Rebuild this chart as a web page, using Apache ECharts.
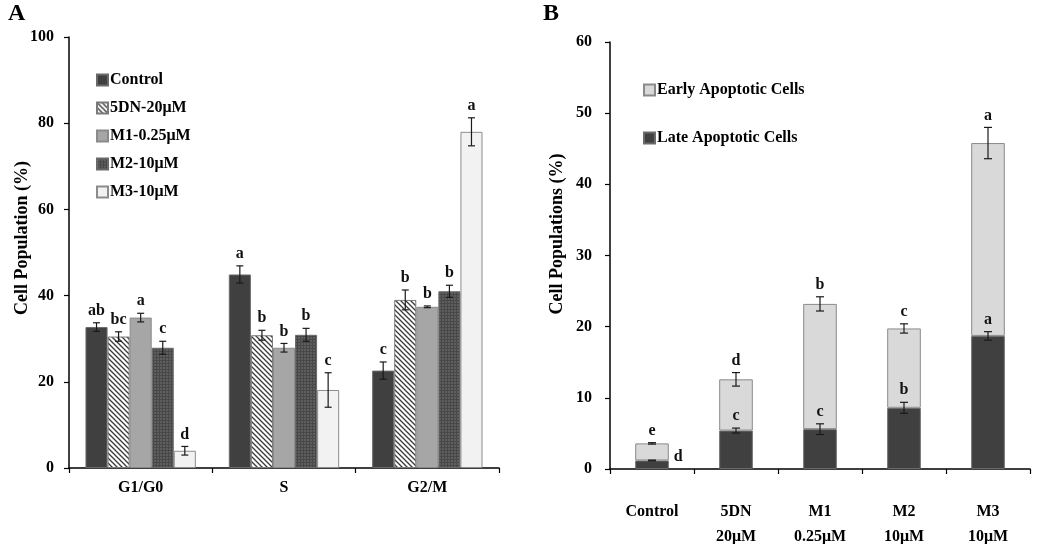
<!DOCTYPE html>
<html><head><meta charset="utf-8">
<script src="https://cdn.jsdelivr.net/npm/echarts@6/dist/echarts.min.js"></script>
<style>html,body{margin:0;padding:0;background:#fff}#c{width:1050px;height:544px}</style>
</head><body><div id="c"></div>
<script>
// ---- Panel A data (cell cycle) ----
const phaseCats = ['G1/G0', 'S', 'G2/M'];
const seriesNamesA = ['Control', '5DN-20μM', 'M1-0.25μM', 'M2-10μM', 'M3-10μM'];
const ctrlVals = [32.7, 44.9, 22.6];
const dn5Vals  = [30.5, 30.8, 39.0];
const m1Vals   = [34.9, 27.9, 37.4];
const m2Vals   = [27.9, 30.9, 41.0];
const m3Vals   = [4.0, 18.1, 78.0];
const ctrlErr = [1.0, 2.0, 2.0];
const dn5Err  = [1.1, 1.15, 2.3];
const m1Err   = [1.0, 1.0, 0.2];
const m2Err   = [1.5, 1.5, 1.4];
const m3Err   = [1.0, 4.0, 3.25];
const ctrlLet = ['ab', 'a', 'c'];
const dn5Let  = ['bc', 'b', 'b'];
const m1Let   = ['a', 'b', 'b'];
const m2Let   = ['c', 'b', 'b'];
const m3Let   = ['d', 'c', 'a'];
const yTicksA = [0, 20, 40, 60, 80, 100];

// ---- Panel B data (apoptosis) ----
const treatCats = ['Control', '5DN\n20μM', 'M1\n0.25μM', 'M2\n10μM', 'M3\n10μM'];
const lateVals  = [1.2, 5.4, 5.6, 8.6, 18.7];
const earlyVals = [2.4, 7.2, 17.6, 11.15, 27.1];
const lateErr   = [0.05, 0.35, 0.75, 0.77, 0.6];
const totalErr  = [0.1, 0.95, 1.0, 0.65, 2.2];
const lateLet   = ['d', 'c', 'c', 'b', 'a'];
const earlyLet  = ['e', 'd', 'b', 'c', 'a'];
const yTicksB = [0, 10, 20, 30, 40, 50, 60];

const FONT = '"Liberation Serif", "DejaVu Serif", serif';

function hatchPattern() {
  const s = 5, c = document.createElement('canvas');
  c.width = s; c.height = s;
  const g = c.getContext('2d');
  g.fillStyle = '#ffffff'; g.fillRect(0, 0, s, s);
  g.strokeStyle = '#3a3a3a'; g.lineWidth = 1.3;
  g.beginPath();
  g.moveTo(-1, -1); g.lineTo(s + 1, s + 1);
  g.moveTo(-1, s - 1); g.lineTo(1, s + 1);
  g.moveTo(s - 1, -1); g.lineTo(s + 1, 1);
  g.stroke();
  return c;
}
function crossPattern() {
  const s = 3, c = document.createElement('canvas');
  c.width = s; c.height = s;
  const g = c.getContext('2d');
  g.fillStyle = '#5e5e5e'; g.fillRect(0, 0, s, s);
  g.fillStyle = '#484848';
  g.fillRect(0, 0, 1, s); g.fillRect(0, 0, s, 1);
  return c;
}

const colorsA = [
  '#404040',
  { image: hatchPattern(), repeat: 'repeat' },
  '#a6a6a6',
  { image: crossPattern(), repeat: 'repeat' },
  '#f2f2f2'
];
const borderA = ['#6a6a6a', '#7a7a7a', '#8a8a8a', '#6a6a6a', '#8c8c8c'];
const valsA = [ctrlVals, dn5Vals, m1Vals, m2Vals, m3Vals];
const errA = [ctrlErr, dn5Err, m1Err, m2Err, m3Err];
const letA = [ctrlLet, dn5Let, m1Let, m2Let, m3Let];
const GAP_A = 0.23;

const series = [];
valsA.forEach((vals, i) => {
  series.push({
    type: 'bar', name: seriesNamesA[i], xAxisIndex: 0, yAxisIndex: 0,
    data: vals, barGap: '0%', barCategoryGap: (GAP_A * 100) + '%',
    itemStyle: { color: colorsA[i], borderColor: borderA[i], borderWidth: 1 },
    z: 2
  });
});
valsA.forEach((vals, i) => {
  series.push({
    type: 'custom', xAxisIndex: 0, yAxisIndex: 0, z: 5, silent: true,
    data: vals.map((v, k) => [k, v, errA[i][k]]),
    renderItem: function (params, api) {
      const k = api.value(0), v = api.value(1), e = api.value(2);
      const band = api.size([1, 0])[0];
      const bw = band * (1 - GAP_A) / 5;
      const c = api.coord([k, v]);
      const x = c[0] - band * (1 - GAP_A) / 2 + bw * (i + 0.5);
      const top = api.coord([k, v + e])[1], bot = api.coord([k, v - e])[1];
      const st = { stroke: '#1a1a1a', lineWidth: 1.2 };
      return { type: 'group', children: [
        { type: 'line', shape: { x1: x, y1: top, x2: x, y2: bot }, style: st },
        { type: 'line', shape: { x1: x - 3.5, y1: top, x2: x + 3.5, y2: top }, style: st },
        { type: 'line', shape: { x1: x - 3.5, y1: bot, x2: x + 3.5, y2: bot }, style: st },
        { type: 'text', style: { text: letA[i][params.dataIndex], x: x, y: top - 4,
          textAlign: 'center', textVerticalAlign: 'bottom',
          font: 'bold 16px ' + FONT, fill: '#111' } }
      ]};
    }
  });
});

// Panel B
series.push({
  type: 'bar', name: 'Late Apoptotic Cells', xAxisIndex: 1, yAxisIndex: 1, stack: 'apo',
  data: lateVals, barCategoryGap: '60%',
  itemStyle: { color: '#404040', borderColor: '#6a6a6a', borderWidth: 1 }, z: 2
});
series.push({
  type: 'bar', name: 'Early Apoptotic Cells', xAxisIndex: 1, yAxisIndex: 1, stack: 'apo',
  data: earlyVals, barCategoryGap: '60%',
  itemStyle: { color: '#d9d9d9', borderColor: '#8a8a8a', borderWidth: 1 }, z: 2
});
function errSeriesB(tops, errs, lets, isLate) {
  return {
    type: 'custom', xAxisIndex: 1, yAxisIndex: 1, z: 5, silent: true,
    data: tops.map((v, k) => [k, v, errs[k]]),
    renderItem: function (params, api) {
      const k = api.value(0), v = api.value(1), e = api.value(2);
      const band = api.size([1, 0])[0];
      const x = api.coord([k, v])[0];
      const top = api.coord([k, v + e])[1], bot = api.coord([k, v - e])[1];
      const st = { stroke: '#1a1a1a', lineWidth: 1.2 };
      const idx = params.dataIndex;
      let tx = x, ty = top - 4, va = 'bottom', ta = 'center';
      if (isLate && earlyVals[idx] < 3) {
        tx = x + band * 0.4 / 2 + 5; ty = api.coord([k, v])[1] - 4; ta = 'left'; va = 'middle';
      }
      return { type: 'group', children: [
        { type: 'line', shape: { x1: x, y1: top, x2: x, y2: bot }, style: st },
        { type: 'line', shape: { x1: x - 4, y1: top, x2: x + 4, y2: top }, style: st },
        { type: 'line', shape: { x1: x - 4, y1: bot, x2: x + 4, y2: bot }, style: st },
        { type: 'text', style: { text: lets[idx], x: tx, y: ty, textAlign: ta, textVerticalAlign: va,
          font: 'bold 16px ' + FONT, fill: '#111' } }
      ]};
    }
  };
}
series.push(errSeriesB(lateVals, lateErr, lateLet, true));
series.push(errSeriesB(lateVals.map((v, k) => v + earlyVals[k]), totalErr, earlyLet, false));

const axisLine = { show: true, lineStyle: { color: '#000', width: 1.5 } };
const axisTick = { show: true, length: 5, inside: false, lineStyle: { color: '#000', width: 1.2 } };

const option = {
  backgroundColor: '#fff',
  animation: false,
  textStyle: { fontFamily: FONT },
  grid: [
    { left: 69, top: 37, width: 430, height: 431, containLabel: false, outerBoundsMode: 'none' },
    { left: 610, top: 42, width: 420, height: 427, containLabel: false, outerBoundsMode: 'none' }
  ],
  xAxis: [
    { type: 'category', gridIndex: 0, data: phaseCats, axisLine: axisLine, axisTick: axisTick,
      axisLabel: { color: '#000', fontFamily: FONT, fontWeight: 'bold', fontSize: 16, margin: 12 } },
    { type: 'category', gridIndex: 1, data: treatCats, axisLine: axisLine, axisTick: axisTick,
      axisLabel: { color: '#000', fontFamily: FONT, fontWeight: 'bold', fontSize: 16, margin: 30, lineHeight: 25 } }
  ],
  yAxis: [
    { type: 'value', gridIndex: 0, min: yTicksA[0], max: yTicksA[yTicksA.length - 1], interval: yTicksA[1] - yTicksA[0],
      axisLine: axisLine, axisTick: axisTick, splitLine: { show: false },
      axisLabel: { color: '#000', fontFamily: FONT, fontWeight: 'bold', fontSize: 16, margin: 15 } },
    { type: 'value', gridIndex: 1, min: yTicksB[0], max: yTicksB[yTicksB.length - 1], interval: yTicksB[1] - yTicksB[0],
      axisLine: axisLine, axisTick: axisTick, splitLine: { show: false },
      axisLabel: { color: '#000', fontFamily: FONT, fontWeight: 'bold', fontSize: 16, margin: 18 } }
  ],
  legend: [
    { data: seriesNamesA, orient: 'vertical', left: 91, top: 67, itemWidth: 11, itemHeight: 11, itemGap: 12,
      icon: 'rect', selectedMode: false,
      textStyle: { color: '#000', fontFamily: FONT, fontWeight: 'bold', fontSize: 16, padding: [0, 0, 0, -3] } },
    { data: ['Early Apoptotic Cells', 'Late Apoptotic Cells'], orient: 'vertical', left: 638, top: 77,
      itemWidth: 11, itemHeight: 11, itemGap: 32, icon: 'rect', selectedMode: false,
      textStyle: { color: '#000', fontFamily: FONT, fontWeight: 'bold', fontSize: 16, padding: [0, 0, 0, -3] } }
  ],
  graphic: [
    { type: 'text', left: 8, top: 2, style: { text: 'A', font: 'bold 24px ' + FONT, fill: '#000' } },
    { type: 'text', left: 543, top: 2, style: { text: 'B', font: 'bold 24px ' + FONT, fill: '#000' } },
    { type: 'text', x: 22, y: 238, rotation: Math.PI / 2,
      style: { text: 'Cell Population (%)', textAlign: 'center', textVerticalAlign: 'middle',
               font: 'bold 18px ' + FONT, fill: '#000' } },
    { type: 'text', x: 557, y: 234, rotation: Math.PI / 2,
      style: { text: 'Cell Populations (%)', textAlign: 'center', textVerticalAlign: 'middle',
               font: 'bold 18px ' + FONT, fill: '#000' } }
  ],
  series: series
};
const chart = echarts.init(document.getElementById('c'), null, { renderer: 'canvas' });
chart.setOption(option);
</script>
</body></html>
